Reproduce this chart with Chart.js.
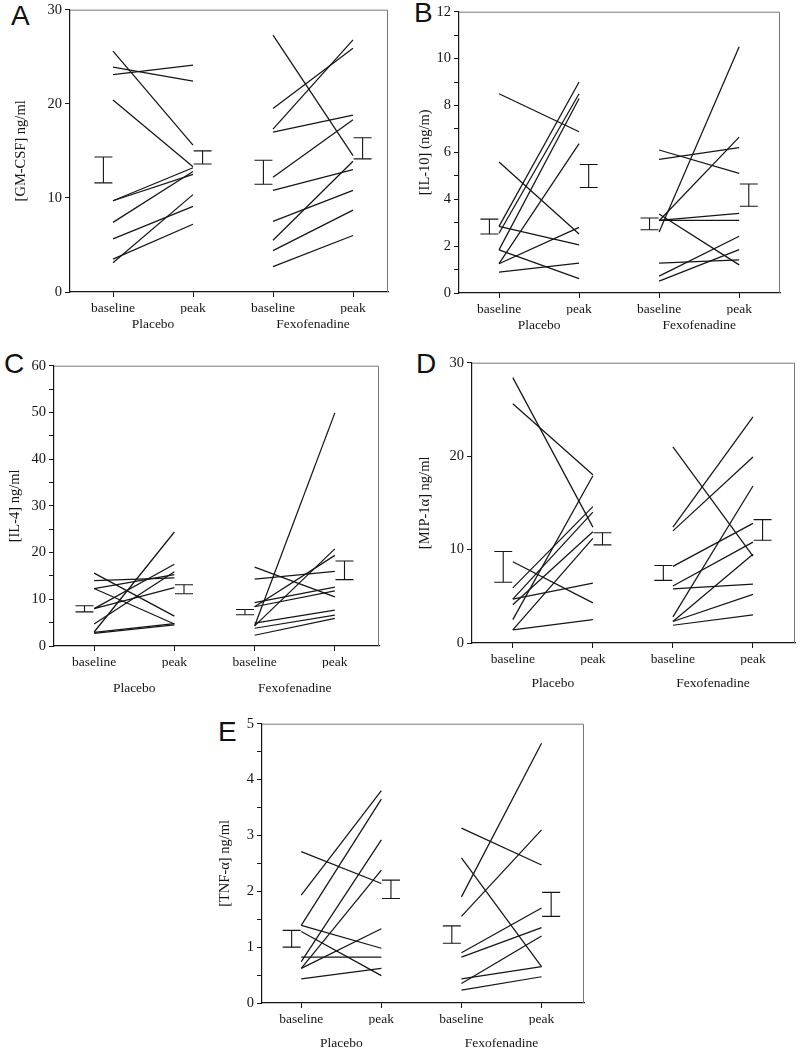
<!DOCTYPE html>
<html>
<head>
<meta charset="utf-8">
<script src="https://cdn.jsdelivr.net/npm/chart.js@4.4.1/dist/chart.umd.min.js"></script>
<style>
  body { margin: 0; background: #fff; width: 800px; height: 1056px; position: relative; overflow: hidden; }
  .panel { position: absolute; }
  .letter { position: absolute; font-family: 'Liberation Sans', Arial, sans-serif; font-size: 28px; line-height: 28px; color: #111; }
</style>
</head>
<body>
<div class="letter" style="left:11px;top:2px">A</div>
<div class="letter" style="left:414px;top:-1px">B</div>
<div class="letter" style="left:4px;top:350px">C</div>
<div class="letter" style="left:416px;top:350px">D</div>
<div class="letter" style="left:218px;top:718px">E</div>

<div class="panel" id="boxA"><canvas id="chartA"></canvas></div>
<div class="panel" id="boxB"><canvas id="chartB"></canvas></div>
<div class="panel" id="boxC"><canvas id="chartC"></canvas></div>
<div class="panel" id="boxD"><canvas id="chartD"></canvas></div>
<div class="panel" id="boxE"><canvas id="chartE"></canvas></div>

<script>
// tick labels
const categories = ['baseline', 'peak', 'baseline', 'peak'];
const groups = ['Placebo', 'Fexofenadine'];

// A - GM-CSF
const gmPlaceboBase = [25.6, 23.9, 23.1, 20.4, 9.7, 9.7, 7.4, 5.65, 3.5, 3.1];
const gmPlaceboPeak = [15.6, 22.4, 24.1, 13.3, 13.2, 12.5, 12.8, 9.1, 7.2, 10.35];
const gmFexoBase = [27.3, 19.5, 17.3, 17.0, 12.2, 10.8, 7.5, 5.5, 4.4, 2.7];
const gmFexoPeak = [14.5, 25.9, 26.8, 18.8, 18.3, 13.0, 10.8, 13.9, 8.7, 6.0];
const gmErrLow = [11.6, 13.6, 11.45, 14.15];
const gmErrHigh = [14.35, 15.0, 14.0, 16.4];

// B - IL-10
const il10PlaceboBase = [8.5, 5.59, 2.84, 2.84, 2.55, 1.84, 1.84, 1.25, 1.25, 0.89];
const il10PlaceboPeak = [6.88, 2.52, 2.05, 9.0, 8.5, 0.61, 8.3, 2.8, 6.37, 1.27];
const il10FexoBase = [6.1, 5.7, 2.6, 3.08, 3.37, 3.1, 3.1, 1.27, 0.72, 0.51];
const il10FexoPeak = [5.1, 6.2, 10.5, 6.65, 1.2, 3.4, 3.1, 1.41, 2.42, 1.85];
const il10ErrLow = [2.52, 4.5, 2.7, 3.7];
const il10ErrHigh = [3.15, 5.48, 3.2, 4.65];

// C - IL-4
const il4PlaceboBase = [15.6, 14.0, 12.3, 12.3, 8.0, 8.0, 4.7, 3.0, 2.9, 2.7];
const il4PlaceboPeak = [6.4, 14.6, 4.7, 15.3, 17.5, 12.5, 15.9, 24.4, 4.8, 4.5];
const il4FexoBase = [16.9, 14.3, 9.3, 8.4, 8.4, 4.3, 4.3, 4.9, 3.8, 2.3];
const il4FexoPeak = [10.5, 16.0, 12.6, 11.8, 19.4, 49.9, 20.8, 7.7, 6.6, 5.9];
const il4ErrLow = [7.3, 11.2, 6.7, 14.2];
const il4ErrHigh = [8.6, 13.1, 7.8, 18.2];

// D - MIP-1a
const mipPlaceboBase = [28.4, 25.6, 8.7, 5.9, 4.7, 4.7, 4.1, 2.5, 1.4, 1.4];
const mipPlaceboPeak = [12.4, 18.0, 4.3, 14.6, 6.4, 14.0, 11.9, 17.9, 11.2, 2.5];
const mipFexoBase = [21.0, 12.4, 12.0, 8.2, 6.1, 5.8, 2.8, 2.3, 2.3, 1.9];
const mipFexoPeak = [9.3, 24.2, 19.9, 12.8, 10.8, 6.3, 16.8, 9.5, 5.2, 3.0];
const mipErrLow = [6.5, 10.5, 6.7, 11.0];
const mipErrHigh = [9.8, 11.8, 8.3, 13.2];

// E - TNF-a
const tnfPlaceboBase = [2.71, 1.93, 1.39, 1.39, 1.28, 0.82, 0.74, 0.62, 0.62, 0.43];
const tnfPlaceboPeak = [2.14, 3.8, 3.65, 0.98, 0.49, 0.82, 2.92, 2.38, 1.33, 0.62];
const tnfFexoBase = [3.13, 2.6, 1.9, 1.55, 0.9, 0.82, 0.43, 0.35, 0.23];
const tnfFexoPeak = [2.47, 0.65, 4.65, 3.1, 1.7, 1.35, 0.65, 1.2, 0.47];
const tnfErrLow = [1.0, 1.87, 1.07, 1.55];
const tnfErrHigh = [1.3, 2.2, 1.38, 1.98];

const INK = '#151515';
const SERIF = "'Liberation Serif', 'Times New Roman', serif";
const PAD_TOP = 10, PAD_RIGHT = 8, X_H = 22, X2_H = 30;
const ERR_SHIFT = [-0.12, 0.12, -0.12, 0.12];

const framePlugin = {
  id: 'frame',
  afterDraw(chart) {
    const { ctx, chartArea: a } = chart;
    ctx.save();
    ctx.strokeStyle = '#777';
    ctx.lineWidth = 1;
    ctx.beginPath();
    ctx.moveTo(a.left, a.top + 0.5);
    ctx.lineTo(a.right - 0.5, a.top + 0.5);
    ctx.lineTo(a.right - 0.5, a.bottom);
    ctx.stroke();
    ctx.restore();
  }
};

const panels = [
  { box: 'boxA', canvas: 'chartA', title: '[GM-CSF] ng/ml', yMax: 30, yStep: 10, yLabel: 10,
    pb: gmPlaceboBase, pp: gmPlaceboPeak, fb: gmFexoBase, fp: gmFexoPeak, lo: gmErrLow, hi: gmErrHigh,
    L: 70, R: 388, T: 8, B: 292, yW: 70, titlePad: 12, groupPad: 2, xMin: 0.4625, xMax: 4.4375 },
  { box: 'boxB', canvas: 'chartB', title: '[IL-10] (ng/m)', yMax: 12, yStep: 1, yLabel: 2,
    pb: il10PlaceboBase, pp: il10PlaceboPeak, fb: il10FexoBase, fp: il10FexoPeak, lo: il10ErrLow, hi: il10ErrHigh,
    L: 459, R: 780, T: 10, B: 293, yW: 70, titlePad: 27, groupPad: 2, xMin: 0.5, xMax: 4.51 },
  { box: 'boxC', canvas: 'chartC', title: '[IL-4] ng/ml', yMax: 60, yStep: 5, yLabel: 10,
    pb: il4PlaceboBase, pp: il4PlaceboPeak, fb: il4FexoBase, fp: il4FexoPeak, lo: il4ErrLow, hi: il4ErrHigh,
    L: 54, R: 379, T: 364, B: 646, yW: 54, titlePad: 6, groupPad: 12, xMin: 0.5, xMax: 4.55 },
  { box: 'boxD', canvas: 'chartD', title: '[MIP-1α] ng/ml', yMax: 30, yStep: 10, yLabel: 10,
    pb: mipPlaceboBase, pp: mipPlaceboPeak, fb: mipFexoBase, fp: mipFexoPeak, lo: mipErrLow, hi: mipErrHigh,
    L: 472, R: 795, T: 361, B: 643, yW: 70, titlePad: 14, groupPad: 10, xMin: 0.49, xMax: 4.525 },
  { box: 'boxE', canvas: 'chartE', title: '[TNF-α] ng/ml', yMax: 5, yStep: 0.5, yLabel: 1,
    pb: tnfPlaceboBase, pp: tnfPlaceboPeak, fb: tnfFexoBase, fp: tnfFexoPeak, lo: tnfErrLow, hi: tnfErrHigh,
    L: 262, R: 584, T: 722, B: 1003, yW: 70, titlePad: 24, groupPad: 10, xMin: 0.51, xMax: 4.53 },
];

const pairLine = (x0, y0, x1, y1) => ({
  data: [{ x: x0, y: y0 }, { x: x1, y: y1 }],
  borderColor: INK,
  borderWidth: 1.25,
  pointRadius: 0,
  pointHoverRadius: 0,
  tension: 0,
  fill: false,
});

const errBar = (x, lo, hi) => ({
  data: [{ x: x, y: lo }, { x: x, y: hi }],
  borderColor: INK,
  borderWidth: 1.1,
  pointStyle: 'line',
  pointRadius: 9,
  pointHoverRadius: 9,
  pointBorderColor: INK,
  pointBorderWidth: 1.1,
  fill: false,
});

panels.forEach((p) => {
  const left = p.L - p.yW;
  const top = p.T - PAD_TOP;
  const box = document.getElementById(p.box);
  box.style.left = left + 'px';
  box.style.top = top + 'px';
  box.style.width = (p.R + PAD_RIGHT - left) + 'px';
  box.style.height = (p.B + X_H + X2_H - top) + 'px';

  const datasets = [];
  p.pb.forEach((v, i) => datasets.push(pairLine(1, v, 2, p.pp[i])));
  p.fb.forEach((v, i) => datasets.push(pairLine(3, v, 4, p.fp[i])));
  p.lo.forEach((v, i) => datasets.push(errBar(i + 1 + ERR_SHIFT[i], v, p.hi[i])));

  const tickFont = { family: SERIF, size: 13.5 };

  new Chart(document.getElementById(p.canvas).getContext('2d'), {
    type: 'line',
    data: { datasets },
    plugins: [framePlugin],
    options: {
      responsive: true,
      maintainAspectRatio: false,
      animation: false,
      events: [],
      layout: { autoPadding: false, padding: { top: PAD_TOP, right: PAD_RIGHT, left: 0, bottom: 0 } },
      plugins: { legend: { display: false }, tooltip: { enabled: false } },
      scales: {
        x: {
          type: 'linear',
          position: 'bottom',
          min: p.xMin,
          max: p.xMax,
          afterBuildTicks: (s) => { s.ticks = categories.map((c, i) => ({ value: i + 1 })); },
          afterFit: (s) => { s.height = X_H; },
          ticks: {
            autoSkip: false, maxRotation: 0, padding: 3, color: INK, font: tickFont,
            callback: (v) => categories[Math.round(v) - 1] || '',
          },
          grid: { drawOnChartArea: false, tickLength: 5, color: INK, tickWidth: 1 },
          border: { color: INK, width: 1.2 },
        },
        x2: {
          type: 'linear',
          position: 'bottom',
          min: p.xMin,
          max: p.xMax,
          afterBuildTicks: (s) => { s.ticks = groups.map((g, i) => ({ value: 1.5 + 2 * i })); },
          afterFit: (s) => { s.height = X2_H; },
          ticks: {
            autoSkip: false, maxRotation: 0, padding: p.groupPad, color: INK, font: tickFont,
            callback: (v) => groups[Math.round((v - 1.5) / 2)] || '',
          },
          grid: { display: false, drawTicks: false },
          border: { display: false },
        },
        y: {
          type: 'linear',
          min: 0,
          max: p.yMax,
          afterFit: (s) => { s.width = p.yW; },
          ticks: {
            stepSize: p.yStep, padding: 3, color: INK, font: { family: SERIF, size: 14.5 },
            callback: (v) => (Math.abs(v / p.yLabel - Math.round(v / p.yLabel)) < 1e-6 ? v : ''),
          },
          grid: { drawOnChartArea: false, tickLength: 5, color: INK, tickWidth: 1 },
          border: { color: INK, width: 1.2 },
          title: {
            display: true, text: p.title, color: INK,
            font: { family: SERIF, size: 14.5 },
            padding: { top: p.titlePad, bottom: 0 },
          },
        },
      },
    },
  });
});
</script>
</body>
</html>
